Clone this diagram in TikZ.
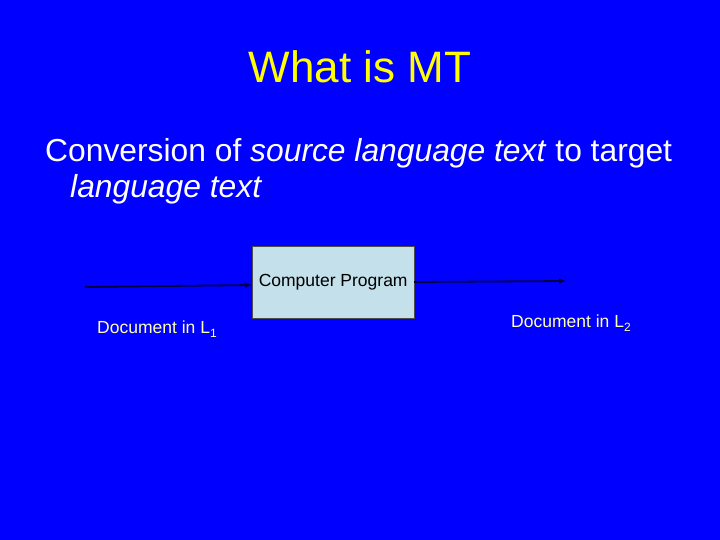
\documentclass[tikz,border=0pt]{standalone}
\usepackage{fontspec}
\setmainfont{Liberation Sans}
\usetikzlibrary{arrows.meta}
\definecolor{slidebg}{HTML}{0000FF}
\definecolor{titleyel}{HTML}{FFFF00}
\definecolor{docyel}{HTML}{FFFFB0}
\definecolor{boxfill}{HTML}{C4E0EA}
\definecolor{arrowcol}{HTML}{000040}
\newcommand{\subdig}[1]{\raisebox{-4pt}{\fontsize{12}{14}\selectfont #1}}
\tikzset{
  doclabel/.style={text=docyel, font=\fontsize{17.5}{20}\selectfont, anchor=base west, inner sep=0pt},
  progbox/.style={draw=black!70, fill=boxfill, minimum width=162pt, minimum height=72pt, inner sep=0pt, font=\fontsize{17.5}{20}\selectfont},
  flow/.style={draw=arrowcol, line width=1.8pt, -{Latex[length=7pt,width=6pt]}}
}
\begin{document}
\begin{tikzpicture}[x=1pt,y=-1pt]
\fill[slidebg] (0,0) rectangle (720,540);
\useasboundingbox (0,0) rectangle (720,540);
\node[text=titleyel, font=\fontsize{44}{50}\selectfont, anchor=base, inner sep=0pt] (title) at (360,83) {What is MT};
\node[text=white, font=\fontsize{31.8}{38}\selectfont, anchor=base west, inner sep=0pt] (body1) at (45,162) {Conversion of \textit{source language text} to target};
\node[text=white, font=\fontsize{31.8}{38}\selectfont, anchor=base west, inner sep=0pt] (body2) at (70,198) {\textit{language text}};
\node[progbox, anchor=north west] (prog) at (252,246) {\raisebox{-3pt}{Computer Program}};
\coordinate (inl) at (85,287);
\coordinate (inr) at (252,285);
\coordinate (outl) at (414,282);
\coordinate (outr) at (566,281);
\draw[flow] (inl) -- (inr);
\draw[flow] (outl) -- (outr);
\node[doclabel] (d1) at (97,333) {Document in L\subdig{1}};
\node[doclabel] (d2) at (511,327) {Document in L\subdig{2}};
\end{tikzpicture}
\end{document}
